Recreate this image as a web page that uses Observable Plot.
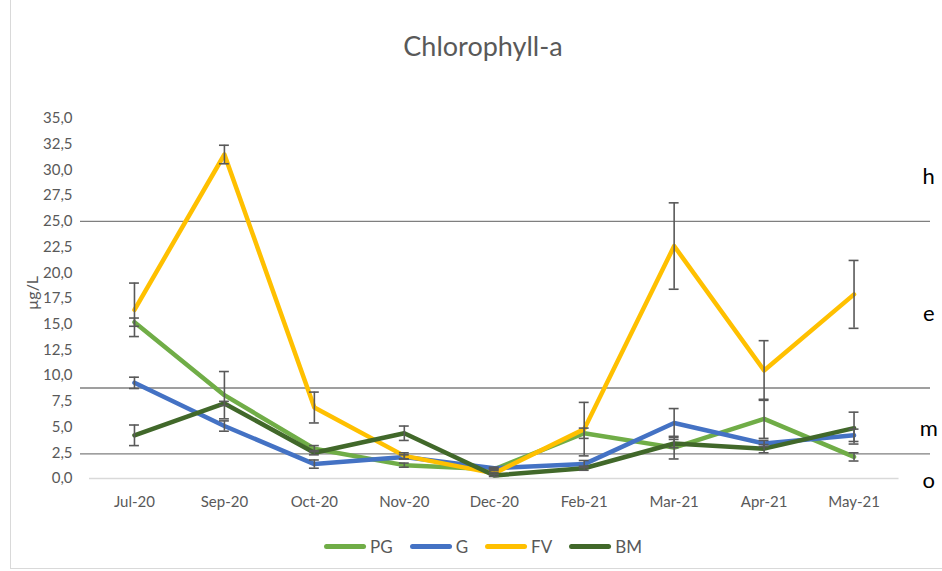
<!DOCTYPE html>
<html><head><meta charset="utf-8">
<script src="https://cdn.jsdelivr.net/npm/d3@7"></script>
<script src="https://cdn.jsdelivr.net/npm/@observablehq/plot@0.6"></script>
<style>
body{margin:0;background:#fff;font-family:Lato,"Open Sans",sans-serif;}
#wrap{position:relative;width:942px;height:571px;overflow:hidden;background:#fff;}
#border{position:absolute;left:10px;top:-5px;width:980px;height:574px;border:1px solid #d9d9d9;box-sizing:border-box;}
#chart{position:absolute;left:0;top:0;}
#title{position:absolute;left:483px;top:29px;transform:translateX(-50%);font-size:27px;color:#595959;white-space:nowrap;}
#ylabel{position:absolute;left:31px;top:293px;transform:translate(-50%,-50%) rotate(-90deg);font-size:16px;color:#595959;white-space:nowrap;}
#legend{position:absolute;left:483px;top:536px;transform:translateX(-50%);display:flex;gap:17px;align-items:center;font-size:17px;color:#595959;white-space:nowrap;}
#legend .item{display:flex;align-items:center;gap:4px;}
#legend .sw{width:42px;height:5px;border-radius:3px;display:inline-block;}
</style></head>
<body>
<div id="wrap">
  <div id="border"></div>
  <div id="chart"></div>
  <div id="title">Chlorophyll-a</div>
  <div id="ylabel">µg/L</div>
  <div id="legend"></div>
</div>
<script>
// ---- data ----
const months = ["Jul-20","Sep-20","Oct-20","Nov-20","Dec-20","Feb-21","Mar-21","Apr-21","May-21"];
const seriesNames = ["PG","G","FV","BM"];
const seriesColors = ["#70AD47","#4472C4","#FFC000","#41682A"];
const PG    = [15.2, 8.1, 2.9, 1.3, 0.9, 4.4, 3.0, 5.8, 2.1];
const PGerr = [0.4, 2.3, 0.3, 0.2, 0.1, 0.5, 1.1, 1.9, 0.4];
const G     = [9.3, 5.1, 1.4, 2.1, 1.0, 1.4, 5.4, 3.4, 4.2];
const Gerr  = [0.55, 0.5, 0.4, 0.2, 0.1, 0.35, 1.4, 0.3, 0.6];
const FV    = [16.4, 31.5, 6.9, 2.2, 0.5, 4.8, 22.6, 10.5, 17.9];
const FVerr = [2.6, 0.9, 1.5, 0.3, 0.1, 2.6, 4.2, 2.9, 3.3];
const BM    = [4.2, 7.3, 2.5, 4.4, 0.3, 1.0, 3.4, 2.9, 4.9];
const BMerr = [1.0, 0.2, 0.2, 0.7, 0.1, 0.2, 0.4, 0.4, 1.55];
const yTicks = [0,2.5,5,7.5,10,12.5,15,17.5,20,22.5,25,27.5,30,32.5,35];
const thresholds = [25, 8.8, 2.4];
const zoneLabels = ["h","e","m","o"];
const zoneY = [29.3, 16.0, 4.85, -0.2];

// ---- build tables ----
const values = [PG, G, FV, BM];
const errs = [PGerr, Gerr, FVerr, BMerr];
const rows = [];
seriesNames.forEach((s, k) => months.forEach((m, i) => rows.push({series: s, i, v: values[k][i], e: errs[k][i]})));
const capHalf = 0.055;

const lineMarks = seriesNames.map((s, k) => Plot.line(rows.filter(r => r.series === s), {
  x: "i", y: "v", stroke: seriesColors[k], strokeWidth: 4.5, strokeLinejoin: "round", strokeLinecap: "round"
}));

const plot = Plot.plot({
  width: 942, height: 571,
  marginTop: 118, marginBottom: 93, marginLeft: 80, marginRight: 12,
  style: {fontFamily: "Lato, 'Open Sans', sans-serif", color: "#595959", background: "transparent"},
  x: {domain: [-0.6, 8.85]},
  y: {domain: [0, 35]},
  marks: [
    Plot.ruleY(thresholds, {stroke: "#7f7f7f", strokeWidth: 1.3}),
    Plot.ruleY([0], {x1: -0.5, x2: 8.5, stroke: "#d9d9d9", strokeWidth: 1.5}),
    ...lineMarks,
    Plot.ruleX(rows, {x: "i", y1: d => d.v - d.e, y2: d => d.v + d.e, stroke: "#595959", strokeWidth: 1.6}),
    Plot.ruleY(rows, {y: d => d.v + d.e, x1: d => d.i - capHalf, x2: d => d.i + capHalf, stroke: "#595959", strokeWidth: 1.6}),
    Plot.ruleY(rows, {y: d => d.v - d.e, x1: d => d.i - capHalf, x2: d => d.i + capHalf, stroke: "#595959", strokeWidth: 1.6}),
    Plot.axisY({ticks: yTicks, tickFormat: d => d.toFixed(1).replace(".", ","), tickSize: 0, tickPadding: 8, fontSize: 15, label: null}),
    Plot.axisX({ticks: d3.range(months.length), tickFormat: i => months[i], tickSize: 0, tickPadding: 18, fontSize: 15, label: null}),
    Plot.text(zoneLabels, {x: 8.83, y: (d, j) => zoneY[j], text: d => d, fontSize: 22, fill: "#000", textAnchor: "middle"})
  ]
});
document.getElementById("chart").appendChild(plot);

const legend = document.getElementById("legend");
seriesNames.forEach((s, k) => {
  const it = document.createElement("div");
  it.className = "item";
  it.innerHTML = `<span class="sw" style="background:${seriesColors[k]}"></span><span>${s}</span>`;
  legend.appendChild(it);
});
</script>
</body></html>
